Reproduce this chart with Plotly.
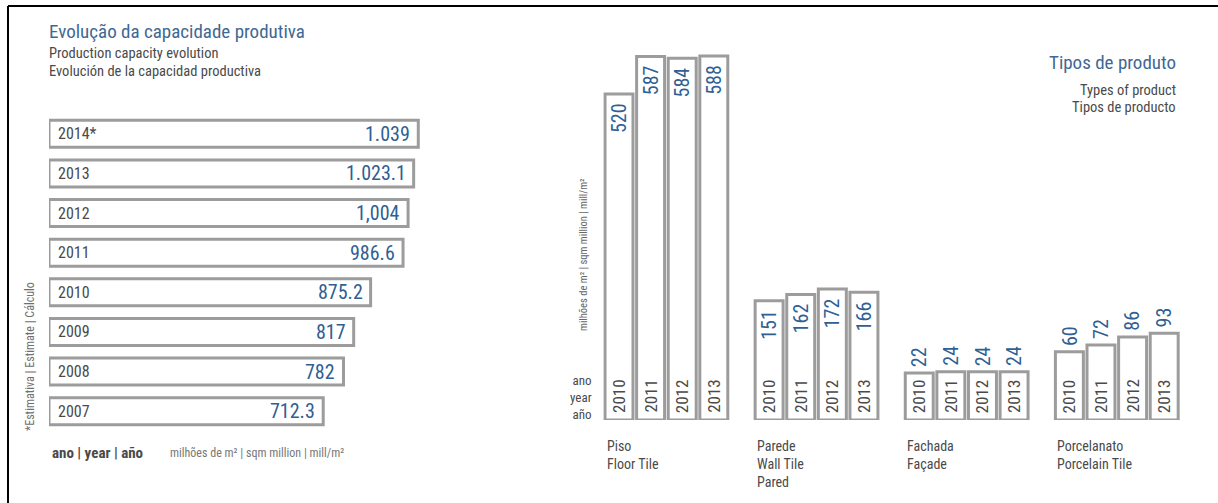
import plotly.graph_objects as go

# ---------------- data ----------------
cap_years = ["2014*", "2013", "2012", "2011", "2010", "2009", "2008", "2007"]
cap_values = [1039, 1023.1, 1004, 986.6, 875.2, 817, 782, 712.3]
cap_labels = ["1.039", "1.023.1", "1,004", "986.6", "875.2", "817", "782", "712.3"]

prod_years = ["2010", "2011", "2012", "2013"]
prod_groups = ["Piso<br>Floor Tile", "Parede<br>Wall Tile<br>Pared", "Fachada<br>Façade",
               "Porcelanato<br>Porcelain Tile"]
floor_tile = [520, 587, 584, 588]
wall_tile = [151, 162, 172, 166]
facade = [22, 24, 24, 24]
porcelain = [60, 72, 86, 93]
prod_series = [floor_tile, wall_tile, facade, porcelain]
label_inside = [True, True, False, False]

# ---------------- style ----------------
W, H = 1218, 503
FONT = "Roboto Condensed, Liberation Sans, sans-serif"
BLUE = "#2f5f93"
TITLE_BLUE = "#3f6894"
GRAY_TXT = "#4a4a4a"
EDGE = "#9c9c9c"
CAP_OFFSET = 230     # visual base shift of left bars
PROD_OFFSET = 62     # visual base shift of right bars
GROUP_STEP = 4.75


def px_x(p):
    return p / W


def px_y(p):
    return 1 - p / H


fig = go.Figure()

# ---- left: production capacity (horizontal bars)
cap_pos = list(range(len(cap_years)))
fig.add_trace(go.Bar(
    orientation="h", y=cap_pos, x=[v + CAP_OFFSET for v in cap_values], base=-CAP_OFFSET,
    width=0.68, marker=dict(color="white", line=dict(color=EDGE, width=3)),
    xaxis="x", yaxis="y", showlegend=False, hoverinfo="skip"))

annotations = []
for pos, yr, v, lab in zip(cap_pos, cap_years, cap_values, cap_labels):
    annotations.append(dict(x=-CAP_OFFSET, y=pos, xref="x", yref="y", text=yr, showarrow=False,
                            xanchor="left", xshift=7, font=dict(family=FONT, size=16, color=GRAY_TXT)))
    annotations.append(dict(x=v, y=pos, xref="x", yref="y", text=lab, showarrow=False,
                            xanchor="right", xshift=-6, font=dict(family=FONT, size=20, color=BLUE)))

# ---- right: product types (vertical bars)
for gi, (series, inside) in enumerate(zip(prod_series, label_inside)):
    xs = [gi * GROUP_STEP + yi for yi in range(len(prod_years))]
    fig.add_trace(go.Bar(
        x=xs, y=[v + PROD_OFFSET for v in series], base=-PROD_OFFSET, width=0.885,
        marker=dict(color="white", line=dict(color=EDGE, width=3)),
        xaxis="x2", yaxis="y2", showlegend=False, hoverinfo="skip"))
    for xv, yr, v in zip(xs, prod_years, series):
        annotations.append(dict(x=xv, y=-PROD_OFFSET, xref="x2", yref="y2", text=yr, showarrow=False,
                                textangle=-90, yanchor="bottom", yshift=5,
                                font=dict(family=FONT, size=17, color=GRAY_TXT)))
        annotations.append(dict(x=xv, y=v, xref="x2", yref="y2", text=str(v), showarrow=False,
                                textangle=-90, yanchor="top" if inside else "bottom",
                                yshift=-7 if inside else 4,
                                font=dict(family=FONT, size=20, color=BLUE)))
    annotations.append(dict(x=xs[0], y=px_y(436), xref="x2", yref="paper", text=prod_groups[gi],
                            showarrow=False, xanchor="left", yanchor="top", xshift=-14, align="left",
                            font=dict(family=FONT, size=14, color=GRAY_TXT)))

# ---- titles and captions
def txt(x, y, s, size, color, xanchor="left", yanchor="middle", angle=0, align="left"):
    annotations.append(dict(x=px_x(x), y=px_y(y), xref="paper", yref="paper", text=s, showarrow=False,
                            xanchor=xanchor, yanchor=yanchor, textangle=angle, align=align,
                            font=dict(family=FONT, size=size, color=color)))


txt(47, 31, "Evolução da capacidade produtiva", 19, TITLE_BLUE)
txt(47, 53, "Production capacity evolution", 14.5, GRAY_TXT)
txt(47, 71, "Evolución de la capacidad productiva", 14.5, GRAY_TXT)
txt(1178, 62, "Tipos de produto", 19, TITLE_BLUE, xanchor="right")
txt(1178, 90, "Types of product", 14.5, GRAY_TXT, xanchor="right")
txt(1178, 108, "Tipos de producto", 14.5, GRAY_TXT, xanchor="right")
txt(30, 357, "*Estimativa | Estimate | Cálculo", 12, "#707070", xanchor="center", angle=-90)
txt(50, 453, "<b>ano | year | año</b>", 15, GRAY_TXT)
txt(168, 453, "milhões de m² | sqm million | mill/m²", 12, "#777777")
txt(583, 255, "milhões de m² | sqm million | mill/m²", 10.5, "#666666", xanchor="center", angle=-90)
txt(594, 397, "ano<br>year<br>año", 13, GRAY_TXT, xanchor="right", align="right")

# ---- frame
shapes = [
    dict(type="line", xref="paper", yref="paper", x0=px_x(8), x1=px_x(8), y0=px_y(6), y1=0,
         line=dict(color="black", width=2)),
    dict(type="line", xref="paper", yref="paper", x0=px_x(8), x1=1, y0=px_y(6), y1=px_y(6),
         line=dict(color="black", width=2)),
]

fig.update_layout(
    width=W, height=H, margin=dict(l=0, r=0, t=0, b=0),
    paper_bgcolor="white", plot_bgcolor="white",
    annotations=annotations, shapes=shapes,
    xaxis=dict(domain=[px_x(49), px_x(449)], range=[-CAP_OFFSET, -CAP_OFFSET + 400 / 0.291],
               visible=False, fixedrange=True),
    yaxis=dict(domain=[px_y(431), px_y(114)], range=[7.5, -0.5],
               visible=False, fixedrange=True),
    xaxis2=dict(domain=[px_x(603.2), px_x(1180)], range=[-0.5, 3 * GROUP_STEP + 3.5],
                visible=False, fixedrange=True),
    yaxis2=dict(domain=[px_y(420), px_y(40)], range=[-PROD_OFFSET, -PROD_OFFSET + 380 / 0.56],
                visible=False, fixedrange=True, anchor="x2"),
    barmode="overlay",
)

fig.write_html("out.html")
